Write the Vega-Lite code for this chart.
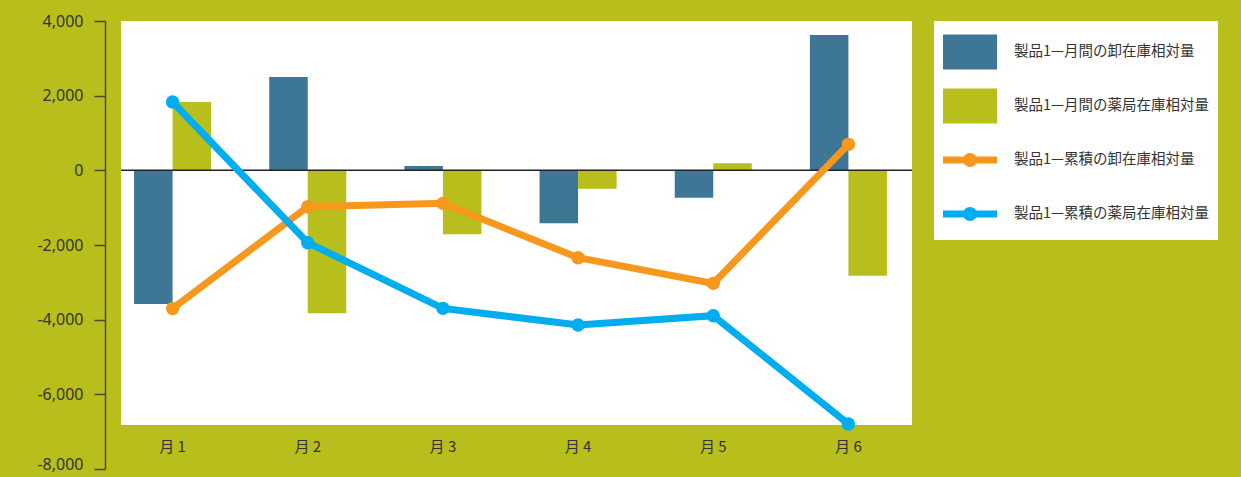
{
  "$schema": "https://vega.github.io/schema/vega-lite/v6.json",
  "autosize": "none",
  "width": 791,
  "height": 404,
  "padding": {"left": 121, "top": 21, "right": 329, "bottom": 52},
  "background": "#B8BE1C",
  "config": {
    "view": {"fill": "white", "stroke": null},
    "font": "Noto Sans CJK JP"
  },
  "data": {
    "values": [
      {"month": "月 1", "series": "製品1—月間の卸在庫相対量", "value": -3580},
      {"month": "月 2", "series": "製品1—月間の卸在庫相対量", "value": 2500},
      {"month": "月 3", "series": "製品1—月間の卸在庫相対量", "value": 115},
      {"month": "月 4", "series": "製品1—月間の卸在庫相対量", "value": -1420},
      {"month": "月 5", "series": "製品1—月間の卸在庫相対量", "value": -733},
      {"month": "月 6", "series": "製品1—月間の卸在庫相対量", "value": 3624},
      {"month": "月 1", "series": "製品1—月間の薬局在庫相対量", "value": 1830},
      {"month": "月 2", "series": "製品1—月間の薬局在庫相対量", "value": -3830},
      {"month": "月 3", "series": "製品1—月間の薬局在庫相対量", "value": -1715},
      {"month": "月 4", "series": "製品1—月間の薬局在庫相対量", "value": -493},
      {"month": "月 5", "series": "製品1—月間の薬局在庫相対量", "value": 187},
      {"month": "月 6", "series": "製品1—月間の薬局在庫相対量", "value": -2823},
      {"month": "月 1", "series": "製品1—累積の卸在庫相対量", "value": -3700},
      {"month": "月 2", "series": "製品1—累積の卸在庫相対量", "value": -975},
      {"month": "月 3", "series": "製品1—累積の卸在庫相対量", "value": -885},
      {"month": "月 4", "series": "製品1—累積の卸在庫相対量", "value": -2340},
      {"month": "月 5", "series": "製品1—累積の卸在庫相対量", "value": -3027},
      {"month": "月 6", "series": "製品1—累積の卸在庫相対量", "value": 696},
      {"month": "月 1", "series": "製品1—累積の薬局在庫相対量", "value": 1830},
      {"month": "月 2", "series": "製品1—累積の薬局在庫相対量", "value": -1938},
      {"month": "月 3", "series": "製品1—累積の薬局在庫相対量", "value": -3697},
      {"month": "月 4", "series": "製品1—累積の薬局在庫相対量", "value": -4144},
      {"month": "月 5", "series": "製品1—累積の薬局在庫相対量", "value": -3894},
      {"month": "月 6", "series": "製品1—累積の薬局在庫相対量", "value": -6795}
    ]
  },
  "encoding": {
    "x": {
      "field": "month", "type": "nominal", "sort": null,
      "scale": {"type": "band", "range": [-16, 795], "paddingInner": 0.43, "paddingOuter": 0.215},
      "axis": {"title": null, "domain": false, "ticks": false, "labelAngle": 0, "labelPadding": 14, "labelFontSize": 15, "labelColor": "#333333", "labelFont": "Noto Sans CJK JP"}
    },
    "y": {
      "field": "value", "type": "quantitative",
      "scale": {"domain": [-8000, 4000], "range": [448, 0], "nice": false, "zero": false},
      "axis": {
        "title": null, "grid": false, "values": [-8000, -6000, -4000, -2000, 0, 2000, 4000],
        "labelExpr": "replace(datum.label, '\u2212', '-')",
        "offset": 16, "tickSize": 11, "domainColor": "#4a4a30", "tickColor": "#4a4a30",
        "domainWidth": 1.5, "tickWidth": 1.5, "labelPadding": 11, "labelFontSize": 16,
        "labelColor": "#333333", "labelFont": "Noto Sans",
        "labelOffset": {"condition": {"test": "datum.value === -8000", "value": -5}, "value": 0}
      }
    },
    "color": {
      "field": "series", "type": "nominal",
      "scale": {
        "domain": ["製品1—月間の卸在庫相対量", "製品1—月間の薬局在庫相対量", "製品1—累積の卸在庫相対量", "製品1—累積の薬局在庫相対量"],
        "range": ["#3E7696", "#B8BE1C", "#F7981D", "#00AEEF"]
      },
      "legend": {
        "title": null, "orient": "none", "legendX": 813, "legendY": 0,
        "fillColor": "white", "padding": 8, "symbolOffset": 5, "labelOffset": 21,
        "rowPadding": 13, "labelFontSize": 14.5, "labelColor": "#333333", "labelFont": "Noto Sans CJK JP", "labelLimit": 400,
        "symbolSize": 2116,
        "encode": {
          "symbols": {
            "update": {
              "shape": {"signal": "indexof(datum.value, '累積') >= 0 ? 'M0,-0.761L0,-0.761Z M0,0.761L0,0.761Z M-1.174,-0.152H1.174V0.152H-1.174Z M-0.304,0A0.304,0.304 0 1,1 0.304,0A0.304,0.304 0 1,1 -0.304,0Z' : 'M-1.174,-0.761H1.174V0.761H-1.174Z'"},
              "fill": {"signal": "scale('color', datum.value)"},
              "stroke": {"value": "transparent"},
              "strokeWidth": {"value": 0},
              "size": {"value": 2116},
              "opacity": {"value": 1}
            }
          }
        }
      }
    }
  },
  "layer": [
    {
      "transform": [{"filter": "indexof(datum.series, '月間') >= 0"}],
      "mark": {"type": "bar"},
      "encoding": {
        "xOffset": {"field": "series", "type": "nominal", "scale": {"paddingInner": 0, "paddingOuter": 0}}
      }
    },
    {
      "data": {"values": [{"z": 0}]},
      "mark": {"type": "rule", "color": "#222222", "strokeWidth": 1.5},
      "encoding": {"y": {"field": "z", "type": "quantitative"}, "x": null, "color": null}
    },
    {
      "transform": [{"filter": "indexof(datum.series, '累積') >= 0"}],
      "mark": {"type": "line", "strokeWidth": 7, "point": {"size": 180, "filled": true, "opacity": 1}}
    }
  ]
}
